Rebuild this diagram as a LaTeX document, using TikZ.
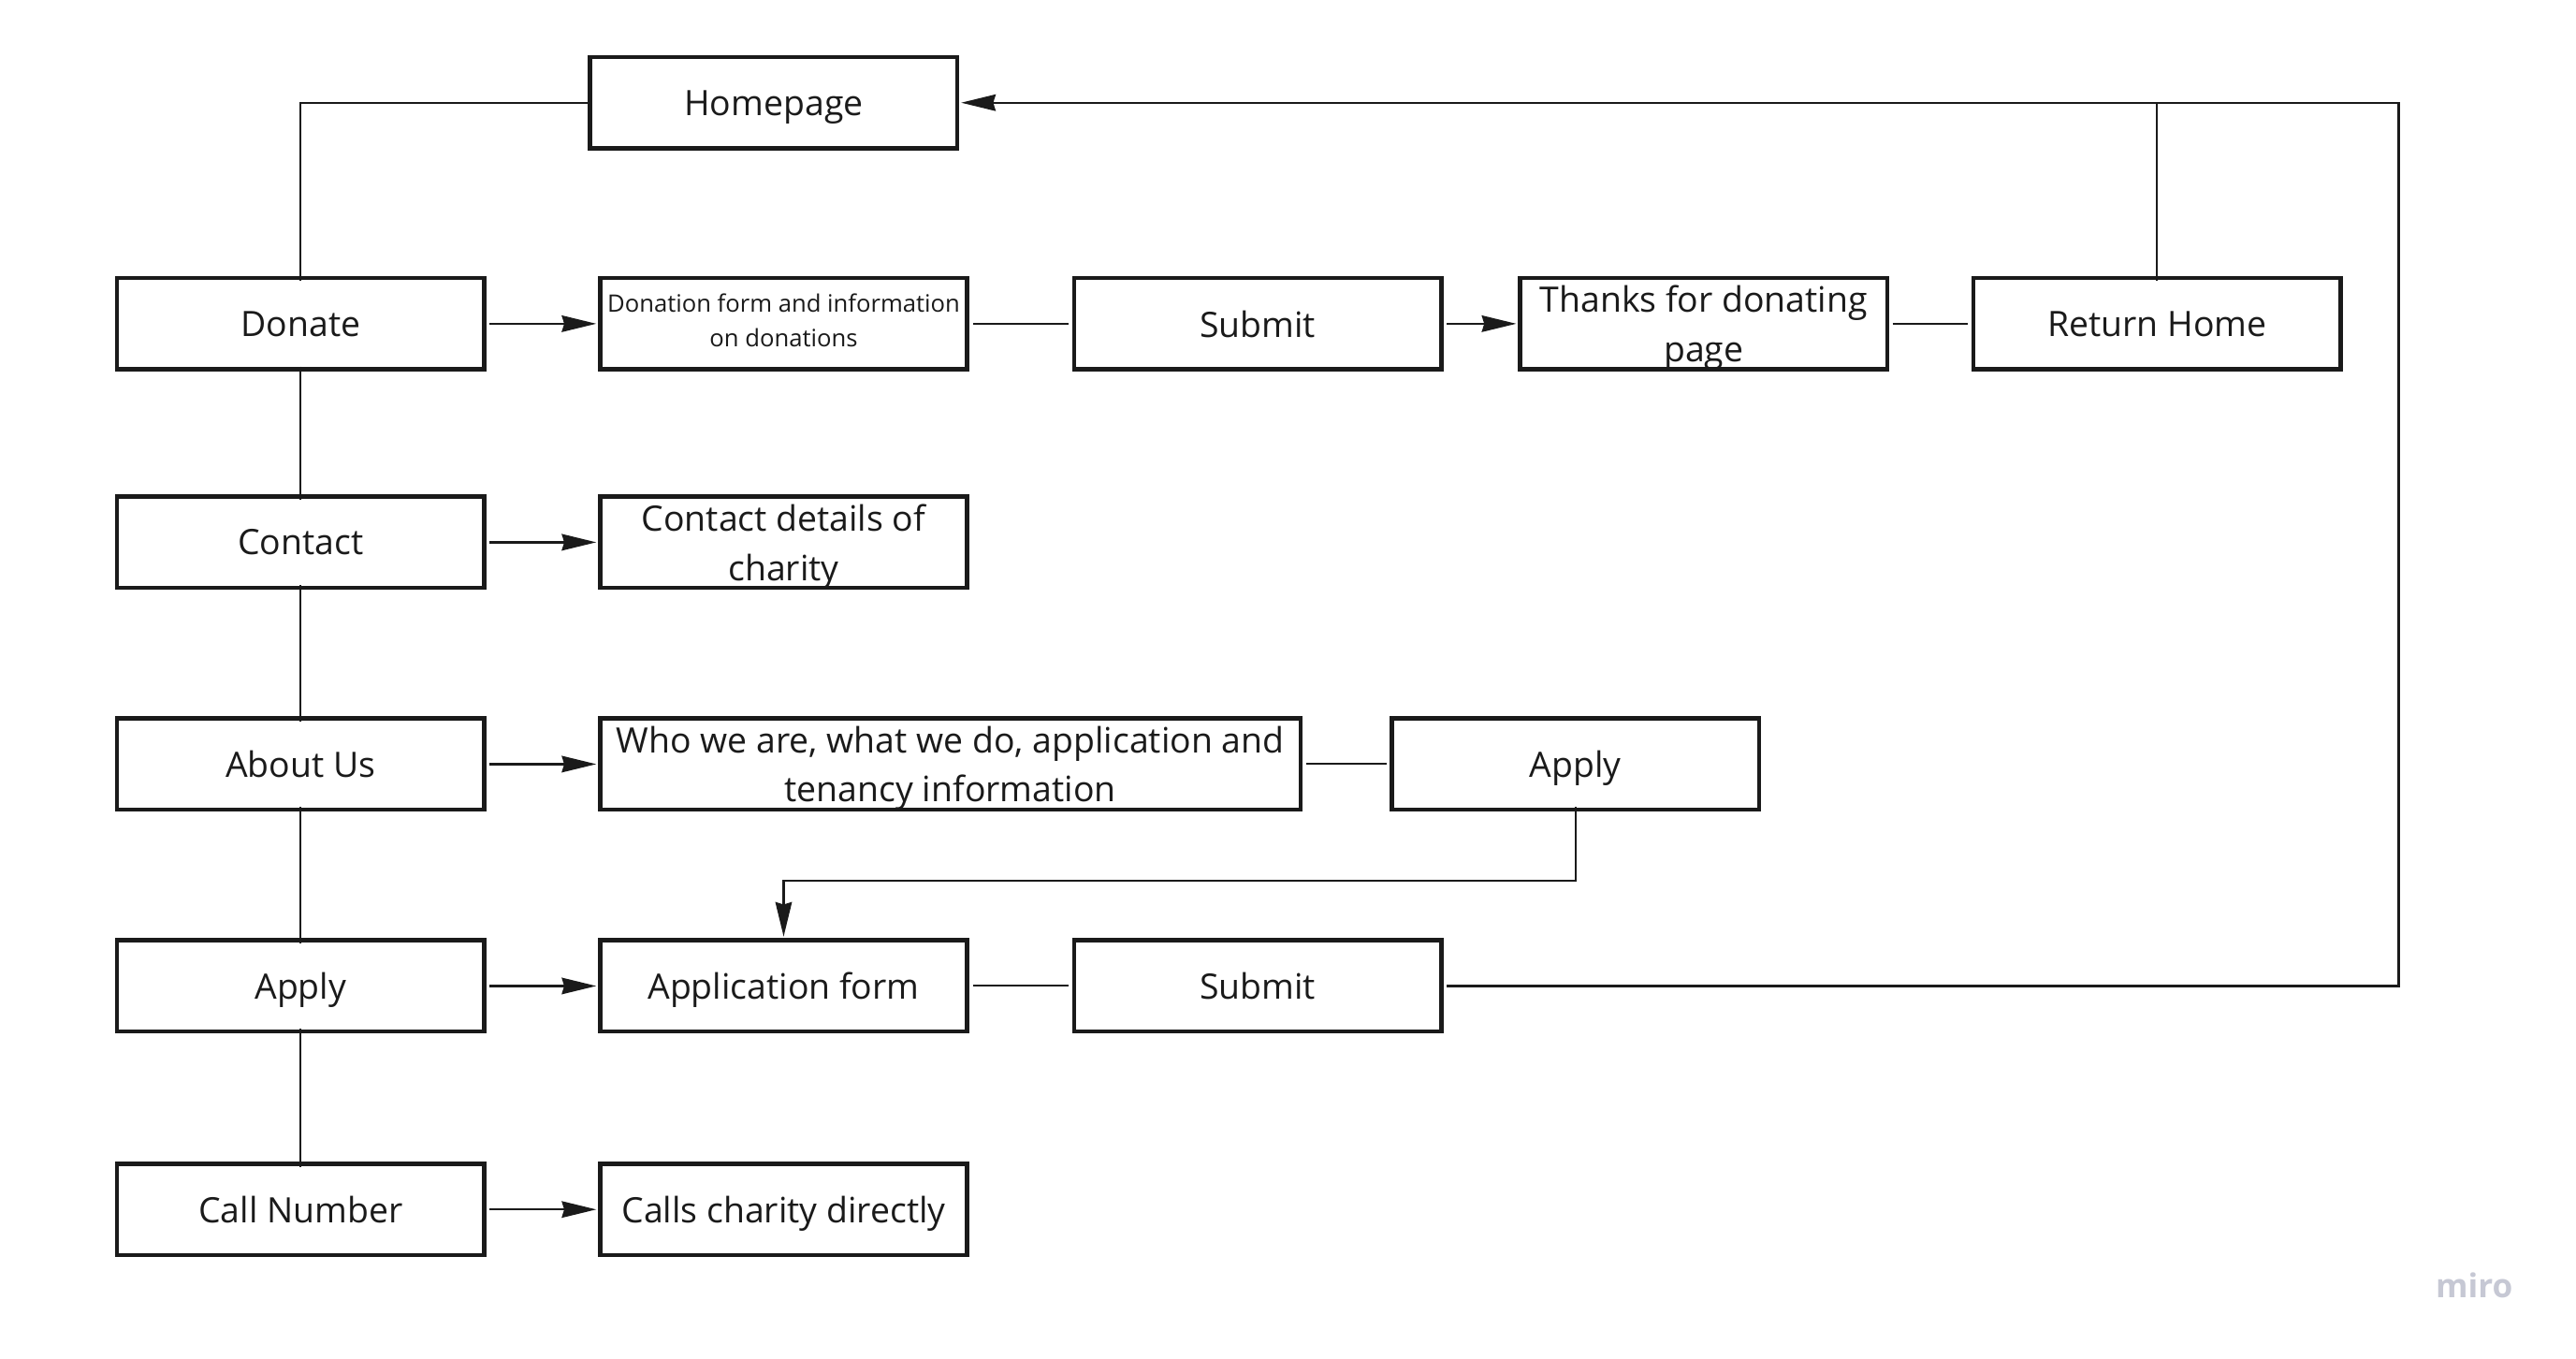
\documentclass[tikz,border=0pt]{standalone}
\usepackage{fontspec}
\setmainfont{Open Sans}
\usetikzlibrary{arrows.meta}
\definecolor{ink}{HTML}{1A1A1A}
\definecolor{mirogray}{HTML}{C6C8D4}
\begin{document}
\begin{tikzpicture}[x=1pt,y=-1pt,
  box/.style={draw=ink, line width=2.6pt, minimum width=223.5pt, minimum height=55.5pt,
    inner sep=0pt, align=center, font=\fontsize{21.3}{30}\selectfont, text=ink, text depth=0pt},
  small/.style={font=\fontsize{14.6}{21}\selectfont, text depth=4pt},
  link/.style={line width=1.1pt, draw=ink},
  arr/.style={line width=1.3pt, draw=ink, shorten <=2pt, shorten >=1pt,
    -{Stealth[length=21pt,width=10pt,inset=1.5pt]}},
]
\fill[white] (0,0) rectangle (1568,827);
\useasboundingbox (0,0) rectangle (1568,827);

% nodes
\node[box] (home) at (471,62.5) {Homepage};

\node[box] (donate)  at (183,197) {Donate};
\node[box,small] (donform) at (477,197) {Donation form and information\\on donations};
\node[box] (submit1) at (765.5,197) {Submit};
\node[box] (thanks)  at (1037,197) {Thanks for donating\\page};
\node[box] (rethome) at (1313,197) {Return Home};

\node[box] (contact)  at (183,330) {Contact};
\node[box] (contdet)  at (477,330) {Contact details of\\charity};

\node[box] (about)  at (183,465) {About Us};
\node[box,minimum width=426.5pt] (whowe) at (578.5,465) {Who we are, what we do, application and\\tenancy information};
\node[box] (apply1) at (959,465) {Apply};

\node[box] (apply2)  at (183,600) {Apply};
\node[box] (appform) at (477,600) {Application form};
\node[box] (submit2) at (765.5,600) {Submit};

\node[box] (callnum) at (183,736) {Call Number};
\node[box] (calls)   at (477,736) {Calls charity directly};

\node[text=mirogray, font=\fontsize{20}{24}\selectfont\bfseries] (miro) at (1506,782) {miro};

\coordinate (corner) at (1460,62.5);
\coordinate (midrow) at (0,536);

% connectors
\draw[link] (home.west) -| ([yshift=-3pt]donate.north);
\draw[link] ([yshift=3pt]donate.south) -- ([yshift=-3pt]contact.north);
\draw[link] ([yshift=3pt]contact.south) -- ([yshift=-3pt]about.north);
\draw[link] ([yshift=3pt]about.south) -- ([yshift=-3pt]apply2.north);
\draw[link] ([yshift=3pt]apply2.south) -- ([yshift=-3pt]callnum.north);

\draw[arr] (donate.east) -- (donform.west);
\draw[link, shorten <=2pt, shorten >=2pt] (donform.east) -- (submit1.west);
\draw[arr] (submit1.east) -- (thanks.west);
\draw[link, shorten <=2pt, shorten >=2pt] (thanks.east) -- (rethome.west);
\draw[link] ([yshift=-3pt]rethome.north) -- (rethome.north |- corner);

\draw[arr] (contact.east) -- (contdet.west);
\draw[arr] (about.east) -- (whowe.west);
\draw[link, shorten <=2pt, shorten >=2pt] (whowe.east) -- (apply1.west);
\draw[arr, shorten <=0pt] ([yshift=3pt]apply1.south) -- (apply1.south |- midrow) -| (appform.north);

\draw[arr] (apply2.east) -- (appform.west);
\draw[link, shorten <=2pt, shorten >=2pt] (appform.east) -- (submit2.west);
\draw[arr] (submit2.east) -| (corner) -- (home.east);

\draw[arr] (callnum.east) -- (calls.west);
\end{tikzpicture}
\end{document}
